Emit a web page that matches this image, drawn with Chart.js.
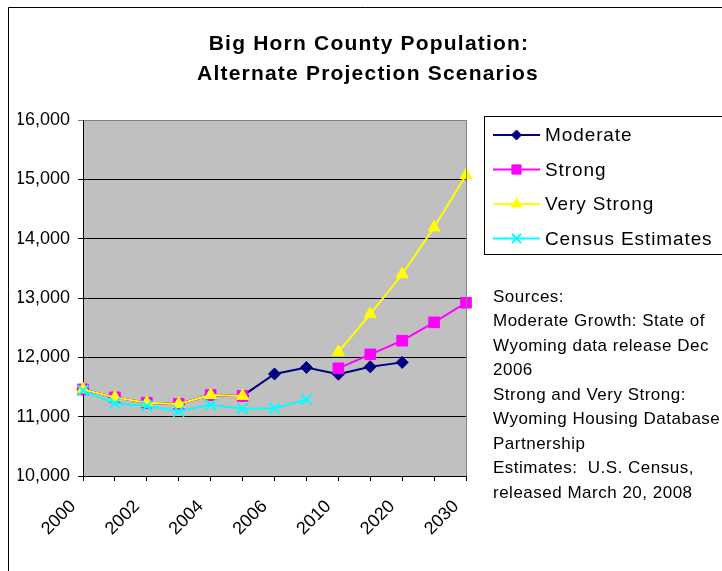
<!DOCTYPE html>
<html>
<head>
<meta charset="utf-8">
<script src="https://cdn.jsdelivr.net/npm/chart.js@4/dist/chart.umd.min.js"></script>
<style>
  html, body { margin: 0; padding: 0; background: #fff; overflow: hidden; }
  #wrap { position: relative; width: 722px; height: 571px; }
</style>
</head>
<body>
<div id="wrap"><canvas id="popChart" width="722" height="571"></canvas></div>
<script>
// data
const years = ['2000', '2001', '2002', '2003', '2004', '2005', '2006', '2007', '2010', '2015', '2020', '2025', '2030'];
const moderate = [11460, 11325, 11235, 11215, 11365, 11350, 11720, 11830, 11715, 11840, 11915, null, null];
const strong = [11460, 11325, 11235, 11215, 11365, 11350, null, null, 11815, 12050, 12280, 12590, 12920];
const veryStrong = [11460, 11325, 11235, 11215, 11365, 11350, null, null, 12090, 12730, 13400, 14190, 15070];
const census = [11440, 11225, 11180, 11090, 11200, 11135, 11140, 11290, null, null, null, null, null];

const titleLines = ['Big Horn County Population:', 'Alternate Projection Scenarios'];
const seriesNames = ['Moderate', 'Strong', 'Very Strong', 'Census Estimates'];
const sourceLines = [
    'Sources:',
    'Moderate Growth: State of',
    'Wyoming data release Dec',
    '2006',
    'Strong and Very Strong:',
    'Wyoming Housing Database',
    'Partnership',
    'Estimates:  U.S. Census,',
    'released March 20, 2008'
];

const FONT = "'Liberation Sans', Arial, sans-serif";

const styles = [
    {color: '#000080', pointStyle: 'rectRot', radius: 6},
    {color: '#FF00FF', pointStyle: 'rect', radius: 7.5},
    {color: '#FFFF00', pointStyle: 'triangle', radius: 7},
    {color: '#00FFFF', pointStyle: 'crossRot', radius: 7.5}
];

function makeSet(i, values, order) {
    const s = styles[i];
    return {
        label: seriesNames[i],
        data: values,
        borderColor: s.color,
        backgroundColor: s.color,
        borderWidth: 2,
        pointStyle: s.pointStyle,
        pointRadius: s.radius,
        pointBorderWidth: s.pointStyle === 'crossRot' ? 2 : 1,
        pointBorderColor: s.color,
        pointBackgroundColor: s.color,
        tension: 0,
        spanGaps: false,
        order: order
    };
}

// grey plot area, frame, title, legend box and sources note
const decorations = {
    id: 'decorations',
    beforeDraw(chart) {
        const {ctx, chartArea: a} = chart;
        ctx.save();
        ctx.fillStyle = '#C0C0C0';
        ctx.fillRect(a.left, a.top, a.right - a.left, a.bottom - a.top);
        ctx.restore();
    },
    afterDatasetsDraw(chart) {
        const {ctx, chartArea: a} = chart;
        ctx.save();
        ctx.strokeStyle = '#808080';
        ctx.lineWidth = 1;
        ctx.beginPath();
        ctx.moveTo(Math.round(a.right) + 0.5, a.top);
        ctx.lineTo(Math.round(a.right) + 0.5, a.bottom);
        ctx.stroke();
        ctx.restore();
    },
    afterDraw(chart) {
        const ctx = chart.ctx;
        ctx.save();

        // outer frame
        ctx.strokeStyle = '#000';
        ctx.lineWidth = 1;
        ctx.beginPath();
        ctx.moveTo(8.5, 571);
        ctx.lineTo(8.5, 7.5);
        ctx.lineTo(722, 7.5);
        ctx.stroke();

        // title
        ctx.fillStyle = '#000';
        ctx.textAlign = 'center';
        ctx.textBaseline = 'alphabetic';
        ctx.font = 'bold 21px ' + FONT;
        ctx.letterSpacing = '1.2px';
        ctx.fillText(titleLines[0], 369, 50);
        ctx.fillText(titleLines[1], 368, 80);

        // legend
        ctx.letterSpacing = '0.9px';
        ctx.strokeStyle = '#000';
        ctx.strokeRect(484.5, 116.5, 245, 138);
        ctx.font = '19px ' + FONT;
        ctx.textAlign = 'left';
        ctx.textBaseline = 'middle';
        styles.forEach((s, i) => {
            const y = 135 + i * 34.5;
            ctx.strokeStyle = s.color;
            ctx.lineWidth = 2;
            ctx.beginPath();
            ctx.moveTo(493, y);
            ctx.lineTo(540, y);
            ctx.stroke();
            ctx.fillStyle = s.color;
            ctx.lineWidth = s.pointStyle === 'crossRot' ? 2 : 1;
            Chart.helpers.drawPoint(ctx, {pointStyle: s.pointStyle, radius: s.radius - 1, rotation: 0, borderWidth: ctx.lineWidth}, 516.5, y);
            ctx.fillStyle = '#000';
            ctx.fillText(seriesNames[i], 545, y + 1);
        });

        // sources note
        ctx.letterSpacing = '0.5px';
        ctx.font = '17px ' + FONT;
        sourceLines.forEach((line, i) => {
            ctx.fillText(line, 493, 297 + i * 24.5);
        });
        ctx.restore();
    }
};

new Chart(
    document.getElementById('popChart'),
    {
        type: 'line',
        data: {
            labels: years,
            datasets: [
                makeSet(0, moderate, 3),
                makeSet(1, strong, 2),
                makeSet(2, veryStrong, 1),
                makeSet(3, census, 0)
            ]
        },
        options: {
            responsive: false,
            animation: false,
            events: [],
            layout: {
                padding: {left: 18, top: 120, right: 256, bottom: 0}
            },
            plugins: {
                legend: {display: false},
                title: {display: false},
                tooltip: {enabled: false}
            },
            scales: {
                x: {
                    offset: false,
                    grid: {
                        drawOnChartArea: false,
                        tickLength: 5,
                        color: '#000'
                    },
                    border: {color: '#000', width: 1},
                    ticks: {
                        autoSkip: false,
                        maxRotation: 45,
                        minRotation: 45,
                        padding: 15,
                        labelOffset: -10,
                        color: '#000',
                        font: {family: FONT, size: 18},
                        callback: (v, i) => (i % 2 === 0 ? years[i] : '')
                    },
                    afterFit: scale => { scale.height = 95; }
                },
                y: {
                    min: 10000,
                    max: 16000,
                    grid: {
                        tickLength: 5,
                        color: ctx => (ctx.tick && ctx.tick.value === 16000 ? '#808080' : '#000')
                    },
                    border: {color: '#000', width: 1},
                    ticks: {
                        stepSize: 1000,
                        padding: 8,
                        color: '#000',
                        font: {family: FONT, size: 18},
                        callback: v => v.toLocaleString('en-US')
                    },
                    afterFit: scale => { scale.width = 65; }
                }
            }
        },
        plugins: [decorations]
    }
);
</script>
</body>
</html>
